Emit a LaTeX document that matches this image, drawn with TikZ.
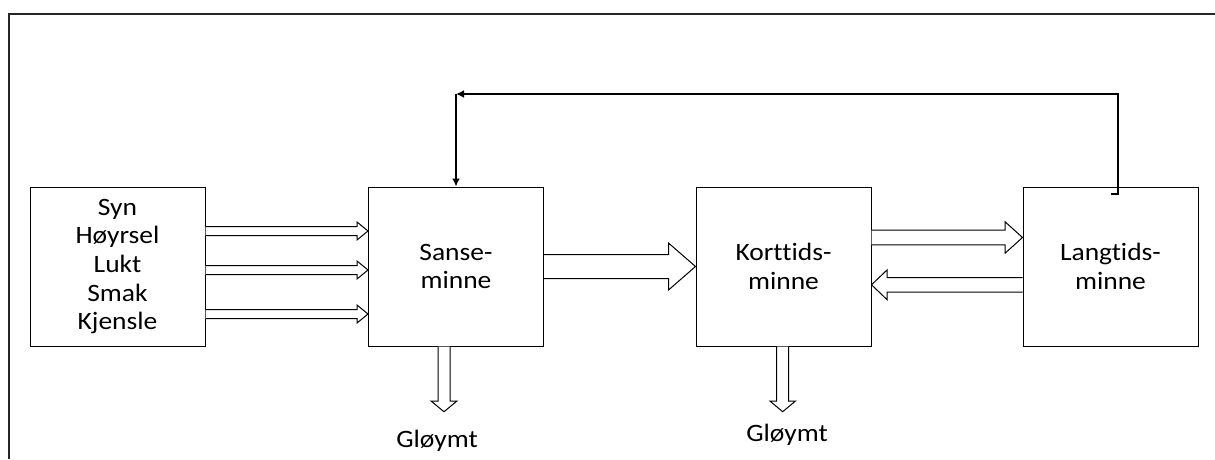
\documentclass[tikz,border=0pt]{standalone}
\usepackage{fontspec}
\setmainfont{Carlito}[FakeStretch=1.1, Ligatures=NoCommon]
\usetikzlibrary{calc,arrows.meta}

% Hollow block arrow, horizontal: start, tip, shaft half-width, head half-width, head length
\newcommand\blockarrowH[5]{%
  \draw[block] let \p1=(#1), \p2=(#2), \n1={sign(\x2-\x1)} in
    (\x1,{\y2+#3}) -- ({\x2-(\n1)*#5},{\y2+#3}) -- ({\x2-(\n1)*#5},{\y2+#4})
    -- (\x2,\y2) -- ({\x2-(\n1)*#5},{\y2-#4}) -- ({\x2-(\n1)*#5},{\y2-#3}) -- (\x1,{\y2-#3});}
% Hollow block arrow, vertical
\newcommand\blockarrowV[5]{%
  \draw[block] let \p1=(#1), \p2=(#2), \n1={sign(\y2-\y1)} in
    ({\x2+#3},\y1) -- ({\x2+#3},{\y2-(\n1)*#5}) -- ({\x2+#4},{\y2-(\n1)*#5})
    -- (\x2,\y2) -- ({\x2-#4},{\y2-(\n1)*#5}) -- ({\x2-#3},{\y2-(\n1)*#5}) -- ({\x2-#3},\y1);}

\tikzset{
  memory/.style={draw=black, line width=1pt, minimum width=175pt, minimum height=159pt,
    inner sep=0pt, align=center, font=\fontsize{25}{28.6}\selectfont},
  block/.style={draw=black, line width=1pt, fill=white, line join=miter},
  feedback/.style={draw=black, line width=2pt, line join=miter},
  frame/.style={draw=black!85, line width=2pt},
  label/.style={font=\fontsize{25}{28.6}\selectfont, inner sep=0pt}
}

\begin{document}
\begin{tikzpicture}[x=1pt, y=-1pt]
  \useasboundingbox (0,0) rectangle (1215,459);
  \fill[white] (0,0) rectangle (1215,459);

  % outer frame (open to the right and bottom)
  \draw[frame] (1215,14) -- (9,14) -- (9,459);

  % memory stores
  \node[memory] (senses) at (117.5,266.5) {Syn\\Høyrsel\\Lukt\\Smak\\Kjensle};
  \node[memory] (sanse)  at (456,266.5)   {Sanse-\\minne};
  \node[memory] (kort)   at (783.5,266.5) {Korttids-\\minne};
  \node[memory] (lang)   at (1110.5,266.5) {Langtids-\\minne};

  % senses into sensory memory
  \blockarrowH{[yshift=35.5pt]senses.east}{[yshift=35.5pt]sanse.west}{4.5pt}{9pt}{11pt}
  \blockarrowH{[yshift=-3.5pt]senses.east}{[yshift=-3.5pt]sanse.west}{4.5pt}{9pt}{11pt}
  \blockarrowH{[yshift=-47.5pt]senses.east}{[yshift=-47.5pt]sanse.west}{4.5pt}{9pt}{11pt}

  % sensory -> short-term
  \blockarrowH{sanse.east}{kort.west}{12pt}{23.5pt}{27pt}

  % short-term <-> long-term
  \blockarrowH{[yshift=29pt]kort.east}{[yshift=29pt]lang.west}{7.3pt}{15.6pt}{17.3pt}
  \blockarrowH{[yshift=-18.3pt]lang.west}{[yshift=-18.3pt]kort.east}{7.2pt}{15pt}{15.7pt}

  % forgetting
  \coordinate (f1) at (444,411.7);
  \coordinate (f2) at (782.7,411.7);
  \blockarrowV{sanse.south -| f1}{f1}{6pt}{13pt}{10.7pt}
  \blockarrowV{kort.south -| f2}{f2}{6pt}{12.8pt}{10.7pt}
  \node[label, anchor=base] (g1) at (437,447) {Gløymt};
  \node[label, anchor=base] (g2) at (787,441) {Gløymt};

  % retrieval loop from long-term back to sensory memory
  \coordinate (t0) at ([yshift=-7pt]lang.north);
  \coordinate (t1) at ([xshift=7pt,yshift=-7pt]lang.north);
  \coordinate (top) at (sanse.north |- 0,94);
  \draw[feedback, -{Latex[length=8pt,width=8pt]}] (t0) -- (t1) |- (top);
  \draw[feedback, -{Latex[length=8pt,width=8pt]}] (top) -- (sanse.north);
\end{tikzpicture}
\end{document}
